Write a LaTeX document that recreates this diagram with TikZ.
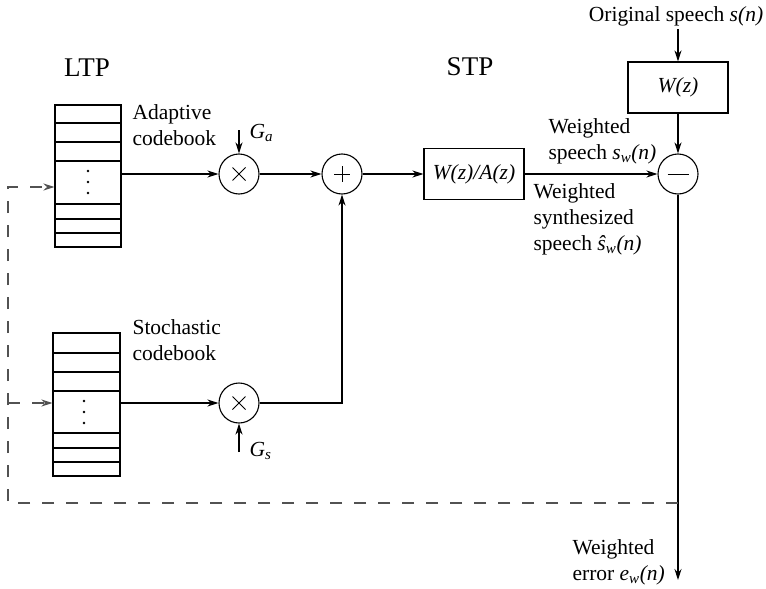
\documentclass[tikz,border=0pt]{standalone}
\usepackage{fontspec}
\setmainfont{Liberation Serif}
\usetikzlibrary{arrows.meta,calc}
\newcommand{\iv}[1]{\textit{#1}}
\newcommand{\sbs}[1]{\textsubscript{\textit{#1}}}
\begin{document}
\begin{tikzpicture}[x=1pt,y=-1pt, line width=1.1pt,
  >={Stealth[length=11pt,width=7pt]},
  every node/.style={font=\fontsize{21.5}{26}\selectfont, inner sep=0pt},
  blk/.style={draw, rectangle, minimum width=100pt, minimum height=51pt},
  op/.style={draw, circle, minimum size=40pt},
  cbk/.style={draw, rectangle, minimum width=66pt, minimum height=142pt},
  fb/.style={dash pattern=on 12pt off 12pt, draw=black!68},
  txt/.style={align=left, anchor=west},
  cdot/.style={circle, fill, minimum size=2.8pt, inner sep=0pt},
  sym/.style={line width=0.9pt}
]
\useasboundingbox (0,0) rectangle (766,589);

% titles
\node[font=\fontsize{27}{30}\selectfont] (ltp) at (87,68) {LTP};
\node[font=\fontsize{27}{30}\selectfont] (stp) at (470,67) {STP};

% adaptive codebook
\node[cbk] (acb) at (88,176) {};
\foreach \yy in {123,142,161,204,219,233} \draw (55,\yy) -- (121,\yy);
\node[cdot] (ad1) at (88,171) {};
\node[cdot] (ad2) at (88,182) {};
\node[cdot] (ad3) at (88,193) {};
\node[txt] (acbl) at (132,125) {Adaptive\\codebook};

% stochastic codebook
\node[cbk, minimum width=67pt, minimum height=143pt] (scb) at (86.5,404.5) {};
\foreach \yy in {353,372,391,433,448,462} \draw (53,\yy) -- (120,\yy);
\node[cdot] (sd1) at (84,401) {};
\node[cdot] (sd2) at (84,412) {};
\node[cdot] (sd3) at (84,423) {};
\node[txt] (scbl) at (132,340) {Stochastic\\codebook};

% multipliers
\node[op] (m1) at (239,174) {};
\draw[sym] ($(m1)+(-6.5,-6.5)$) -- ($(m1)+(6.5,6.5)$);
\draw[sym] ($(m1)+(-6.5,6.5)$) -- ($(m1)+(6.5,-6.5)$);
\node[op] (m2) at (239,403) {};
\draw[sym] ($(m2)+(-6.5,-6.5)$) -- ($(m2)+(6.5,6.5)$);
\draw[sym] ($(m2)+(-6.5,6.5)$) -- ($(m2)+(6.5,-6.5)$);

% gains
\coordinate (gain) at (239,130);
\node[anchor=west] (gal) at (249,133) {\iv{G}\sbs{a}};
\coordinate (gsin) at (239,452);
\node[anchor=west] (gsl) at (249,451) {\iv{G}\sbs{s}};

% adder
\node[op] (add) at (342,174) {};
\draw[sym] ($(add)+(-8,0)$) -- ($(add)+(8,0)$);
\draw[sym] ($(add)+(0,-8)$) -- ($(add)+(0,8)$);

% STP filter
\node[blk] (wa) at (474,174) {\iv{W(z)/A(z)}};

% weighting filter
\node[blk] (wz) at (678,87.5) {\iv{W(z)}};
\node (os) at (676,16) {Original speech \iv{s(n)}};
\coordinate (sin) at (678,29);

% subtractor
\node[op] (sub) at (678,174) {};
\draw[sym] ($(sub)+(-10.5,0)$) -- ($(sub)+(10.5,0)$);

% signal labels
\node[txt] (wsl) at (548,141) {Weighted\\speech \iv{s}\sbs{w}\iv{(n)}};
\node[txt] (wssl) at (533,219) {Weighted\\synthesized\\speech \iv{ŝ}\sbs{w}\iv{(n)}};
\node[txt] (wel) at (572,562) {Weighted\\error \iv{e}\sbs{w}\iv{(n)}};
\coordinate (eout) at (678,580);

% solid connectors
\draw[->] (acb.east |- m1) -- (m1);
\draw[->] (gain) -- (m1);
\draw[->] (m1) -- (add);
\draw[->] (add) -- (wa);
\draw[->] (wa) -- (sub);
\draw[->] (sin) -- (wz);
\draw[->] (wz) -- (sub);
\draw[->] (sub) -- (eout);
\draw[->] (scb.east |- m2) -- (m2);
\draw[->] (gsin) -- (m2);
\coordinate (jn) at (342,403);
\draw[->] (m2) -- (jn) -- (add);

% feedback (dashed)
\coordinate (fbr) at (678,503);
\coordinate (fbl) at (8,503);
\coordinate (fbt) at (8,187);
\coordinate (fbm) at (8,403);
\draw[fb,->] (fbr) -- (fbl) -- (fbt) -- (fbt -| acb.west);
\draw[fb,->] (fbm) -- (fbm -| scb.west);
\end{tikzpicture}
\end{document}
